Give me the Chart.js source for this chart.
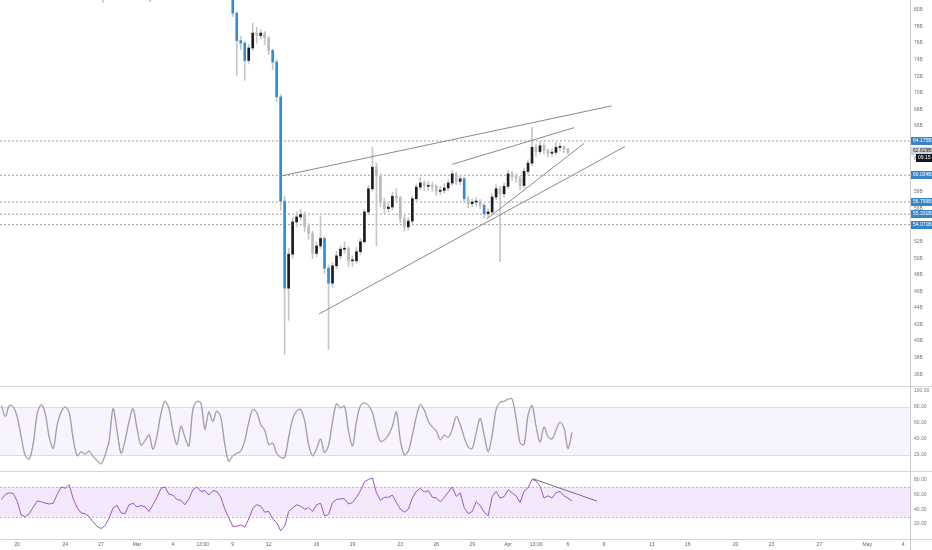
<!DOCTYPE html>
<html>
<head>
<meta charset="utf-8">
<title>Market cap with Stoch RSI and RSI</title>
<script src="https://cdn.jsdelivr.net/npm/chart.js@4.4.1/dist/chart.umd.min.js"></script>
<style>
html,body{margin:0;padding:0;background:#ffffff;overflow:hidden}
canvas{display:block}
</style>
</head>
<body>
<canvas id="chart" width="932" height="550"></canvas>
<script>
// ---------- DATA (days counted from 1 Mar 2020) ----------
const candleStartDay = 8;        // first visible candle: 9 Mar
const candleStepDay = 1 / 3;     // 8-hour candles
const open = [
  82.0,79.6,76.3,76.0,73.9,75.4,77.2,76.9,77.2,76.6,
  75.1,73.7,69.5,56.9,46.4,50.5,54.4,55.0,55.3,53.8,
  53.0,50.6,51.5,52.4,48.8,47.0,49.1,50.3,51.1,51.2,
  49.7,49.7,50.8,52.0,55.6,58.4,61.0,59.9,56.8,56.0,
  56.2,57.5,57.3,54.8,53.8,54.5,57.2,58.6,59.1,58.7,
  58.8,58.7,58.1,58.2,58.5,59.1,60.2,59.3,59.6,57.2,
  56.6,56.8,56.9,56.4,55.4,55.6,57.4,58.4,57.8,58.7,
  60.2,59.9,59.7,58.8,60.5,61.5,63.4,62.9,63.6,63.0,
  62.7,62.8,63.4,63.5,63.2];
const high = [
  82.5,79.8,76.8,76.2,75.8,78.4,77.9,77.6,77.4,76.8,
  75.3,74.0,69.8,57.5,51.2,55.0,55.6,55.9,55.6,54.2,
  53.3,52.0,55.1,52.6,49.2,49.5,50.8,51.5,52.0,51.4,
  50.3,51.3,52.4,55.9,58.8,63.4,61.5,60.2,57.2,56.8,
  58.0,58.4,57.5,55.2,54.9,57.5,59.0,59.8,59.4,59.3,
  59.2,58.9,58.7,59.0,59.5,60.6,60.4,60.0,59.8,57.5,
  57.2,57.3,57.1,56.6,56.0,57.8,58.9,58.7,59.1,60.6,
  60.5,60.2,59.9,60.9,61.9,65.8,63.8,64.1,63.9,63.2,
  63.2,64.0,63.9,63.6,63.3];
const low = [
  79.2,72.1,75.2,71.5,73.5,75.1,76.0,76.5,75.8,74.6,
  72.8,68.9,55.8,38.4,42.5,50.0,53.8,54.6,53.2,52.3,
  50.0,50.2,51.2,48.2,39.0,46.5,48.7,49.9,50.6,49.0,
  49.0,49.4,50.5,51.8,55.3,58.1,51.5,56.2,55.4,55.6,
  55.9,56.8,54.3,53.3,53.4,54.2,56.9,58.3,58.2,58.2,
  58.1,57.6,57.7,57.9,58.2,58.8,58.9,58.9,56.7,56.1,
  56.2,56.4,56.0,54.9,54.9,55.3,57.1,49.6,57.4,58.4,
  59.4,59.2,58.3,58.5,60.2,61.2,62.3,62.6,62.6,62.2,
  62.3,62.5,63.0,62.8,62.6];
const close = [
  79.6,76.3,76.0,73.9,75.4,77.2,76.9,77.2,76.6,75.1,
  73.7,69.5,56.9,46.4,50.5,54.4,55.0,55.3,53.8,53.0,
  50.6,51.5,52.4,48.8,47.0,49.1,50.3,51.1,51.2,49.7,
  49.7,50.8,52.0,55.6,58.4,61.0,59.9,56.8,56.0,56.2,
  57.5,57.3,54.8,53.8,54.5,57.2,58.6,59.1,58.7,58.8,
  58.7,58.1,58.2,58.5,59.1,60.2,59.3,59.6,57.2,56.6,
  56.8,56.9,56.4,55.4,55.6,57.4,58.4,57.8,58.7,60.2,
  59.9,59.7,58.8,60.5,61.5,63.4,62.9,63.6,63.0,62.7,
  62.8,63.4,63.5,63.2,62.83];
// candles flagged by the chart's bar colouring (breakdown bars)
const signalBars = [0,1,2,3,10,11,12,13,23,24,58,63];
// earlier candles are above the visible range; only their lower wicks show
const earlyWickDays = [-2.85, 1.1];
const earlyWickLow = [80.9, 81.0];
const earlyWickHigh = [84.0, 84.0];

// indicators on the same 8-hour grid
const indStartDay = -11.33;
const indStepDay = 1 / 3;
const stochRsi = [
  82,68,82,80,67,42,19,15,35,72,
  83,72,42,28,58,74,80,73,40,19,
  24,21,25,18,13,9,20,38,78,50,
  22,38,62,78,53,32,38,45,27,44,
  72,87,78,50,33,56,42,31,77,87,
  85,52,74,62,75,67,33,12,19,22,
  25,38,61,77,73,58,51,33,35,22,
  17,17,42,65,75,77,63,33,19,28,
  40,23,32,62,84,79,81,50,31,62,
  82,85,82,73,52,37,39,45,56,74,
  38,20,25,45,68,83,76,62,55,50,
  39,45,42,52,68,58,42,30,28,48,
  66,45,24,45,77,86,87,90,90,66,
  35,33,70,82,56,36,55,43,40,51,
  61,54,28,48];
const rsi = [
  53,60,62,61,50,32,30,34,43,51,
  50,48,47,48,60,70,68,73,54,42,
  35,34,30,23,17,14,18,28,42,45,
  35,34,46,48,43,45,43,37,46,56,
  68,70,60,59,53,52,46,54,66,70,
  64,65,59,65,64,56,40,28,17,17,
  19,16,27,41,46,44,36,37,27,22,
  11,17,37,42,46,44,40,42,37,46,
  48,31,33,49,53,54,54,47,49,56,
  65,77,80,82,62,52,56,56,59,49,
  40,36,40,55,64,68,63,65,56,55,
  50,56,63,70,57,62,42,34,37,50,
  45,36,31,57,64,55,57,66,62,58,
  49,64,69,80,78,71,55,58,55,62,
  64,58,55,51];

// horizontal price levels (billions) and last price
const levels = [64.175, 60.034, 56.799, 55.331, 54.071];
const lastPrice = 62.829;
const countdown = '09:15';

// drawn trendlines [day, value]
const priceTrendlines = [
  [[11.95, 59.92], [39.68, 68.42]],
  [[26.32, 61.35], [36.51, 65.78]],
  [[29.24, 54.77], [37.34, 63.87]],
  [[15.20, 43.27], [40.77, 63.51]]
];
const rsiTrendline = [[33.05, 81.1], [38.43, 50.9]];

// bands
const stochBand = [20, 80];
const rsiBand = [30, 70];

// axis ticks
const priceTicks = [36,38,40,42,44,46,48,50,52,54,56,58,60,62,64,66,68,70,72,74,76,78,80];
const stochTicks = [20,40,60,80,100];
const rsiTicks = [20,40,60,80];
const timeTickDays = [-10,-6,-3,0,3,5.5,8,11,15,18,22,25,28,31,33.35,36,39,43,46,50,53,57,61,64];
const timeTickLabels = ['20','24','27','Mar','4','13:00','9','12','16','19','23','26','29','Apr','13:00','6','9','13','16','20','23','27','May','4'];

// ---------- CHART ----------
const X_MIN = -11.445, X_MAX = 64.66;
const FONT = '"Liberation Sans", Arial, sans-serif';
const UP = '#1c1c22', DOWN = '#bcbcbc', SIGNAL = '#2f8de0', WICK = '#c6c6c6';

const candleDays = close.map((_, i) => candleStartDay + i * candleStepDay);
const indDays = rsi.map((_, i) => indStartDay + i * indStepDay);

const datasets = [];
levels.forEach(l => datasets.push({
  type: 'line', yAxisID: 'y', order: 8,
  data: [{x: X_MIN, y: l}, {x: X_MAX, y: l}],
  borderColor: '#9c9ea6', borderWidth: 1, borderDash: [2, 2],
  pointRadius: 0, fill: false
}));
datasets.push({
  type: 'bar', yAxisID: 'y', order: 7, grouped: false,
  data: earlyWickDays.map((d, i) => ({x: d, y: [earlyWickLow[i], earlyWickHigh[i]]})),
  backgroundColor: WICK, barThickness: 1, borderWidth: 0
});
datasets.push({
  type: 'bar', yAxisID: 'y', order: 6, grouped: false,
  data: candleDays.map((d, i) => ({x: d, y: [low[i], high[i]]})),
  backgroundColor: WICK, barThickness: 1, borderWidth: 0
});
datasets.push({
  type: 'bar', yAxisID: 'y', order: 5, grouped: false,
  data: candleDays.map((d, i) => ({x: d, y: [open[i], close[i]]})),
  backgroundColor: ctx => {
    const i = ctx.dataIndex;
    if (signalBars.includes(i)) return SIGNAL;
    return close[i] >= open[i] ? UP : DOWN;
  },
  barThickness: 2, minBarLength: 1, borderWidth: 0
});
priceTrendlines.forEach(seg => datasets.push({
  type: 'line', yAxisID: 'y', order: 1,
  data: seg.map(p => ({x: p[0], y: p[1]})),
  borderColor: '#8a8a8a', borderWidth: 1, pointRadius: 0, fill: false
}));
datasets.push({
  type: 'line', yAxisID: 'ys', order: 2,
  data: indDays.map((d, i) => ({x: d, y: stochRsi[i]})),
  borderColor: 'rgba(120,150,200,0.9)', borderWidth: 1, pointRadius: 0, fill: false, tension: 0.3
});
datasets.push({
  type: 'line', yAxisID: 'ys', order: 3,
  data: indDays.map((d, i) => ({x: d, y: stochRsi[i]})),
  borderColor: 'rgba(230,150,90,0.45)', borderWidth: 1.6, pointRadius: 0, fill: false, tension: 0.3
});
datasets.push({
  type: 'line', yAxisID: 'yr', order: 2,
  data: indDays.map((d, i) => ({x: d, y: rsi[i]})),
  borderColor: '#9b55c0', borderWidth: 1, pointRadius: 0, fill: false
});
datasets.push({
  type: 'line', yAxisID: 'yr', order: 1,
  data: rsiTrendline.map(p => ({x: p[0], y: p[1]})),
  borderColor: '#6e6e6e', borderWidth: 1, pointRadius: 0, fill: false
});

function fixVertical(s) { s.width = 21; s.paddingTop = 0; s.paddingBottom = 0; }
function yScale(weight, min, max, ticks, fmt) {
  return {
    type: 'linear', position: 'right', stack: 'panes', stackWeight: weight,
    min: min, max: max, offset: false, beginAtZero: false,
    grid: {display: false, drawTicks: false}, border: {display: false},
    afterBuildTicks: s => { s.ticks = ticks.map(v => ({value: v})); },
    afterFit: fixVertical,
    ticks: {autoSkip: false, padding: 3, color: '#73767f', font: {family: FONT, size: 5}, callback: fmt}
  };
}

const chrome = {
  id: 'chrome',
  beforeDatasetsDraw(chart) {
    const {ctx, chartArea: a, scales} = chart;
    ctx.save();
    // Stoch RSI band
    let t = scales.ys.getPixelForValue(stochBand[1]), b = scales.ys.getPixelForValue(stochBand[0]);
    ctx.fillStyle = 'rgba(150,100,220,0.07)';
    ctx.fillRect(a.left, t, a.right - a.left, b - t);
    ctx.strokeStyle = '#dcdbe4'; ctx.lineWidth = 1;
    [t, b].forEach(p => { ctx.beginPath(); ctx.moveTo(a.left, Math.round(p) + 0.5); ctx.lineTo(a.right, Math.round(p) + 0.5); ctx.stroke(); });
    // RSI band
    t = scales.yr.getPixelForValue(rsiBand[1]); b = scales.yr.getPixelForValue(rsiBand[0]);
    ctx.fillStyle = 'rgba(170,80,240,0.13)';
    ctx.fillRect(a.left, t, a.right - a.left, b - t);
    ctx.strokeStyle = '#bdb5cc'; ctx.setLineDash([2, 2]);
    [t, b].forEach(p => { ctx.beginPath(); ctx.moveTo(a.left, Math.round(p) + 0.5); ctx.lineTo(a.right, Math.round(p) + 0.5); ctx.stroke(); });
    ctx.restore();
  },
  afterDraw(chart) {
    const {ctx, chartArea: a, scales} = chart;
    const W = chart.width, H = chart.height;
    ctx.save();
    ctx.strokeStyle = '#d4d6dd'; ctx.lineWidth = 1;
    [scales.y.bottom, scales.ys.bottom, scales.yr.bottom].forEach(p => {
      const yy = Math.round(p) + 0.5;
      ctx.beginPath(); ctx.moveTo(0, yy); ctx.lineTo(W, yy); ctx.stroke();
    });
    const ax = Math.round(a.right) - 0.5;
    ctx.strokeStyle = '#c9cbd2';
    ctx.beginPath(); ctx.moveTo(ax, 0); ctx.lineTo(ax, H); ctx.stroke();

    ctx.font = '5px ' + FONT; ctx.textBaseline = 'middle'; ctx.textAlign = 'left';
    const bx = Math.round(a.right);
    function box(py, bg, fg, txt, x0) {
      ctx.fillStyle = bg; ctx.fillRect(x0, Math.round(py) - 4, W - x0, 8);
      ctx.fillStyle = fg; ctx.fillText(txt, x0 + 2, Math.round(py));
    }
    levels.forEach(l => box(scales.y.getPixelForValue(l), '#3a83c5', '#ffffff', l.toFixed(3) + 'B', bx));
    const lp = scales.y.getPixelForValue(lastPrice);
    box(lp - 1, '#d3d5dc', '#1e222d', lastPrice.toFixed(3) + 'B', bx);
    box(lp + 6, '#131722', '#ffffff', countdown, bx + 5);
    ctx.restore();
  }
};

new Chart(document.getElementById('chart'), {
  type: 'bar',
  data: {datasets},
  options: {
    responsive: false, animation: false, events: [],
    layout: {padding: 0},
    plugins: {legend: {display: false}, tooltip: {enabled: false}},
    scales: {
      x: {
        type: 'linear', position: 'bottom', min: X_MIN, max: X_MAX, offset: false,
        grid: {display: false, drawTicks: false, offset: false}, border: {display: false},
        afterBuildTicks: s => { s.ticks = timeTickDays.map(v => ({value: v})); },
        afterFit: s => { s.height = 11; s.paddingLeft = 0; s.paddingRight = 0; },
        ticks: {autoSkip: false, maxRotation: 0, padding: 3, color: '#5f626c', font: {family: FONT, size: 5},
          callback: (v, i) => timeTickLabels[i]}
      },
      y: yScale(386, 34.58, 81.20, priceTicks, v => v + 'B'),
      ys: yScale(85, 0, 106.25, stochTicks, v => v.toFixed(2)),
      yr: yScale(68, 0, 91.33, rsiTicks, v => v.toFixed(2))
    }
  },
  plugins: [chrome]
});
</script>
</body>
</html>
